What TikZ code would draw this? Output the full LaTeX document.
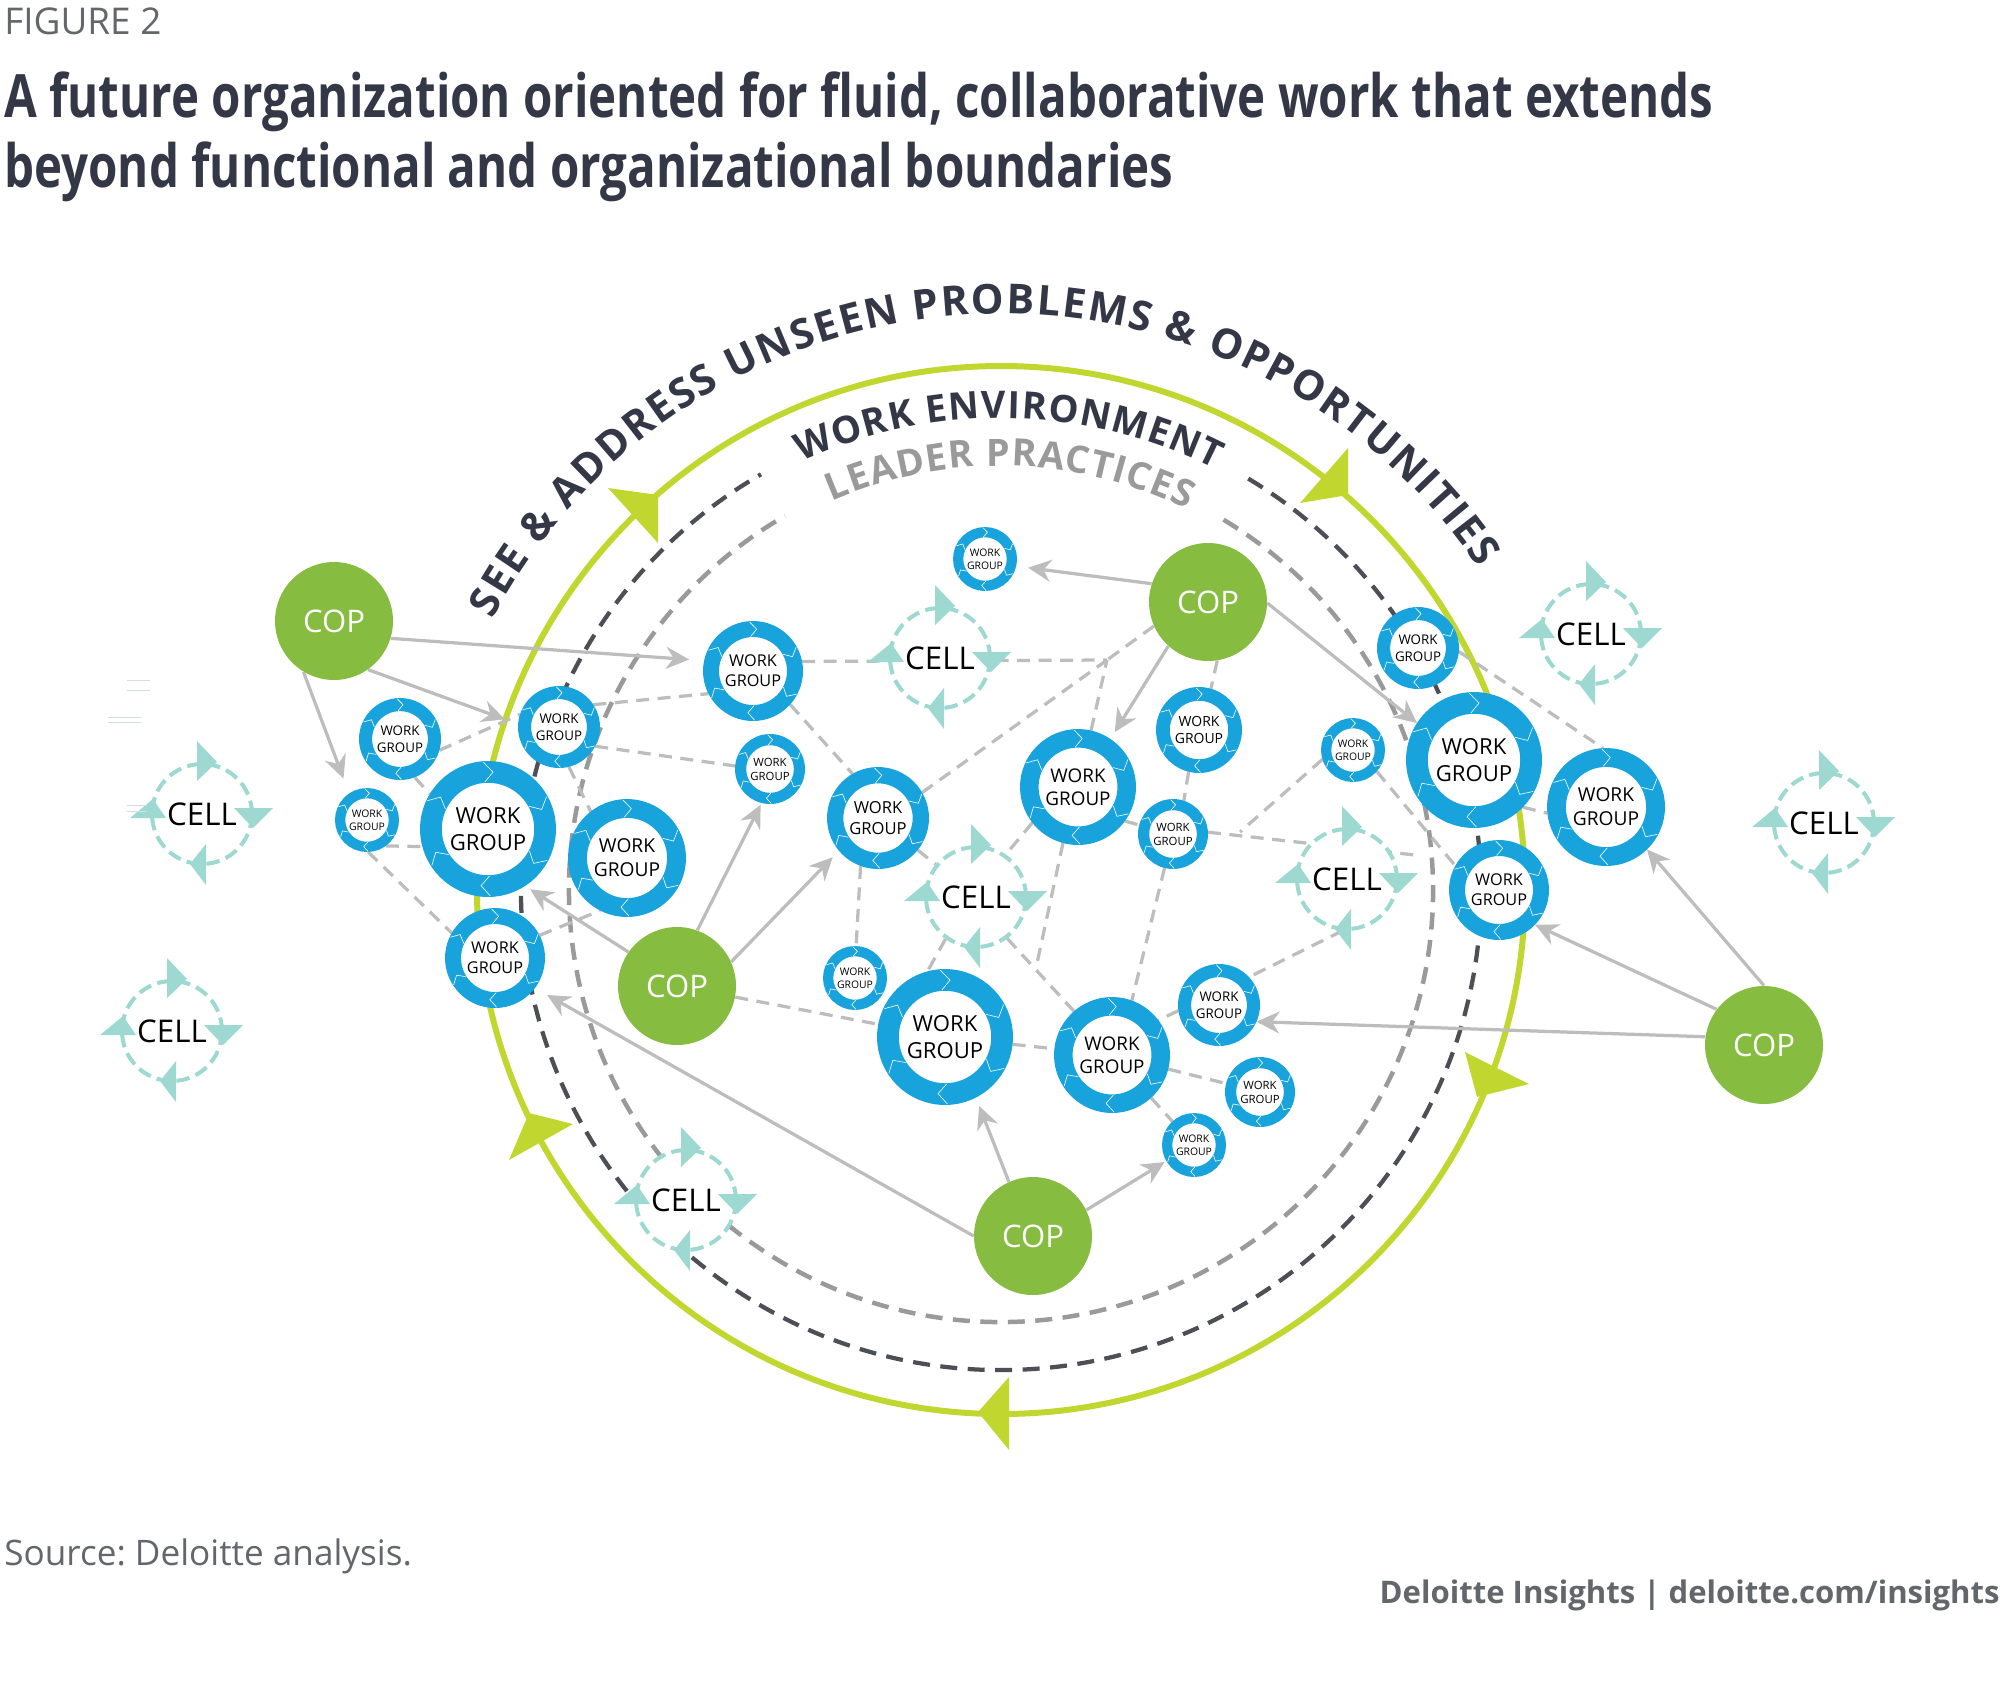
\documentclass[tikz,border=0pt]{standalone}
\usepackage{fontspec}
\usepackage{tikz}
\usetikzlibrary{arrows.meta,decorations.text}
\setmainfont{Open Sans}
\newfontfamily\titlefont[FakeStretch=0.795]{Open Sans}
\frenchspacing
\pgfdeclarelayer{bg}
\pgfsetlayers{bg,main}
\definecolor{inkdark}{HTML}{343846}
\definecolor{inkgray}{HTML}{63666A}
\definecolor{ringblue}{HTML}{18A3DC}
\definecolor{ringgreen}{HTML}{C1D72F}
\definecolor{copgreen}{HTML}{86BC40}
\definecolor{cellteal}{HTML}{9DD9D1}
\definecolor{linkgray}{HTML}{BDBDBD}
\definecolor{envdark}{HTML}{4D4F57}
\definecolor{envgray}{HTML}{9A9A9A}
\definecolor{straygray}{HTML}{D5DEE3}
\tikzset{
  copnode/.style={circle, fill=copgreen, text=white, inner sep=0pt, minimum size=2.36cm,
    font=\fontsize{17.7}{20}\selectfont},
  wgnode/.style={circle, draw=ringblue, fill=white, inner sep=0pt, align=center, text=black},
  chevron/.style={draw=white, line width=0.012cm},
  cellnode/.style={circle, draw=cellteal, fill=white, line width=0.08cm, inner sep=0pt,
    minimum size=2cm, dash pattern=on 0.27cm off 0.13cm},
  celltext/.style={inner sep=0pt, text=black, font=\fontsize{17.8}{20}\selectfont},
  linkdash/.style={draw=linkgray, line width=0.065cm, dash pattern=on 0.26cm off 0.17cm},
  linkarrow/.style={draw=linkgray, line width=0.065cm, -{Stealth[length=0.46cm,width=0.44cm]}},
  plaintext/.style={inner sep=0pt, anchor=base west},
  strayline/.style={draw=straygray, line width=0.02cm},
}
% name, x, y, outer radius
\newcommand{\wgroup}[4]{%
  \pgfmathsetmacro{\wgfont}{0.185*#4}
  \pgfmathsetmacro{\wgskip}{1.24*\wgfont}
  \node (#1) [wgnode, minimum size=0.0336cm*#4, line width=0.0064cm*#4,
    font=\fontsize{\wgfont}{\wgskip}\selectfont] at (#2,#3) {WORK\\GROUP};
  \foreach \a in {90,25,-32,-92,209,151}
    \draw[chevron, shift={(#2,#3)}] (\a+4:0.69*#4) -- (\a-5:0.84*#4) -- (\a+4:0.985*#4);
}
% name, x, y
\newcommand{\cellgroup}[3]{%
  \node (#1) [cellnode] at (#2,#3) {};
  \fill[cellteal, shift={(#2,#3)}] (-5,73) -- (15,52) -- (-5,33) -- cycle;
  \fill[cellteal, shift={(#2,#3)}] (32,6) -- (71,6) -- (51,-14) -- cycle;
  \fill[cellteal, shift={(#2,#3)}] (4,-30) -- (4,-71) -- (-12,-50) -- cycle;
  \fill[cellteal, shift={(#2,#3)}] (-72,-4) -- (-36,-4) -- (-49,15) -- cycle;
  \node (#1t) [celltext] at (#1) {CELL};
}
\begin{document}
\begin{tikzpicture}[x=0.02cm,y=0.02cm]
        \useasboundingbox (0,0) rectangle (2000,-1681);
        \node (figno) [plaintext, text=inkgray, font=\fontsize{21}{24}\selectfont] at (4,-34) {FIGURE 2};
        \node (title1) [plaintext, text=inkdark, font=\titlefont\bfseries\fontsize{34}{40}\selectfont] at (4,-117) {A future organization oriented for fluid, collaborative work that extends};
        \node (title2) [plaintext, text=inkdark, font=\titlefont\bfseries\fontsize{34}{40}\selectfont] at (4,-187) {beyond functional and organizational boundaries};
        \node (source) [plaintext, text=inkgray, font=\fontsize{20}{24}\selectfont] at (4,-1565) {Source: Deloitte analysis.};
        \node (credit) [inner sep=0pt, anchor=base east, text=inkgray, font=\bfseries\fontsize{17.7}{24}\selectfont] at (2000,-1603) {Deloitte Insights | deloitte.com/insights};

        \coordinate (hub) at (1001,-890);
        \coordinate (j1) at (1107,-660);
        \coordinate (j2) at (1036,-968);
        \coordinate (j3) at (1415,-855);
        \coordinate (j4) at (1240,-832);

        \node (copa) [copnode] at (334,-621) {COP};
        \node (copb) [copnode] at (1208,-602) {COP};
        \node (copc) [copnode] at (677,-986) {COP};
        \node (copd) [copnode] at (1033,-1236) {COP};
        \node (cope) [copnode] at (1764,-1045) {COP};

        \wgroup{w1}{753}{-671}{50}
        \wgroup{w2}{985}{-559}{32}
        \wgroup{w3}{400}{-739}{41}
        \wgroup{w4}{367}{-820}{32}
        \wgroup{w5}{488}{-829}{68}
        \wgroup{w6}{559}{-727}{41}
        \wgroup{w7}{627}{-858}{59}
        \wgroup{w8}{770}{-769}{35}
        \wgroup{w9}{495}{-958}{50}
        \wgroup{w10}{878}{-818}{51}
        \wgroup{w11}{1078}{-787}{58}
        \wgroup{w12}{1199}{-730}{43}
        \wgroup{w13}{1173}{-834}{35}
        \wgroup{w14}{1353}{-750}{32}
        \wgroup{w15}{1418}{-648}{41}
        \wgroup{w16}{1474}{-760}{68}
        \wgroup{w17}{1606}{-807}{59}
        \wgroup{w18}{1499}{-890}{50}
        \wgroup{w19}{855}{-978}{32}
        \wgroup{w20}{945}{-1037}{68}
        \wgroup{w21}{1112}{-1055}{58}
        \wgroup{w22}{1219}{-1005}{41}
        \wgroup{w23}{1260}{-1092}{35}
        \wgroup{w24}{1194}{-1145}{32}

        \cellgroup{c1}{202}{-814}
        \cellgroup{c2}{172}{-1031}
        \cellgroup{c3}{940}{-658}
        \cellgroup{c4}{976}{-897}
        \cellgroup{c5}{1347}{-879}
        \cellgroup{c6}{1591}{-634}
        \cellgroup{c7}{1824}{-823}
        \cellgroup{c8}{686}{-1200}

        \path[decorate, decoration={text along path, text align={fit to path},
          text={|\bfseries\fontsize{23.5}{30}\selectfont\color{inkdark}|SEE {\&} ADDRESS UNSEEN PROBLEMS {\&} OPPORTUNITIES}}]
          (hub) ++ (152:576) arc (152:34:576);
        \path[decorate, decoration={text along path, text align={fit to path},
          text={|\bfseries\fontsize{21.5}{25}\selectfont\color{inkdark}|WORK ENVIRONMENT}}]
          (hub) ++ (115:472) arc (115:63:472);
        \path[decorate, decoration={text along path, text align={fit to path},
          text={|\bfseries\fontsize{21.5}{24}\selectfont\color{envgray}|LEADER PRACTICES}}]
          (hub) ++ (113.5:424) arc (113.5:64:424);

        \draw[strayline] (127,-680) -- (150,-680);
        \draw[strayline] (127,-690) -- (150,-690);
        \draw[strayline] (108,-717) -- (141,-717);
        \draw[strayline] (108,-722) -- (141,-722);
        \draw[strayline] (127,-805) -- (147,-805);
        \draw[strayline] (127,-811) -- (147,-811);

        \begin{pgfonlayer}{bg}
                \draw[ringgreen, line width=0.12cm] (hub) circle (524);
                \draw[envdark, line width=0.085cm, dash pattern=on 0.34cm off 0.21cm] (hub) ++ (59:480) arc (59:-240:480);
                \draw[envgray, line width=0.09cm, dash pattern=on 0.34cm off 0.21cm] (hub) ++ (59:432) arc (59:-240:432);
                \fill[ringgreen] (608,-488) -- (658,-543) -- (658,-495) -- cycle;
                \fill[ringgreen] (1348,-448) -- (1300,-503) -- (1348,-495) -- cycle;
                \fill[ringgreen] (1465,-1052) -- (1529,-1084) -- (1477,-1097) -- cycle;
                \fill[ringgreen] (1009,-1377) -- (1009,-1450) -- (978,-1412) -- cycle;
                \fill[ringgreen] (573,-1124) -- (509,-1160) -- (529,-1113) -- cycle;
                \draw (w3.-16) edge [linkdash] (w6.162);
                \draw (w3.-69) edge [linkdash] (w5.149);
                \draw (w4.-54) edge [linkdash] (w5.195);
                \draw (w4.-88) edge [linkdash] (w9.150);
                \draw (w6.33) edge [linkdash] (w1.207);
                \draw (w6.-28) edge [linkdash] (w8.175);
                \draw (w6.-76) edge [linkdash] (w7.128);
                \draw (w9.27) edge [linkdash] (w7.243);
                \draw (w1.11) edge [linkdash] (j1);
                \draw (copb.204) edge [linkdash] (j1);
                \draw (w10.30) edge [linkdash] (j1);
                \draw (w11.77) edge [linkdash] (j1);
                \draw (copb.-81) edge [linkdash] (w12.74);
                \draw (w12.-104) edge [linkdash] (w13.72);
                \draw (w11.-36) edge [linkdash] (w13.165);
                \draw (w1.-42) edge [linkdash] (w10.120);
                \draw (w10.-110) edge [linkdash] (w19.88);
                \draw (w10) edge [linkdash] (c4);
                \draw (w11.218) edge [linkdash] (c4.55);
                \draw (w11.-105) edge [linkdash] (j2);
                \draw (c4.-53) edge [linkdash] (w21.131);
                \draw (c4.234) edge [linkdash] (w20.105);
                \draw (w13.-104) edge [linkdash] (w21.70);
                \draw (w13.3) edge [linkdash] (j3);
                \draw (w14.197) edge [linkdash] (j4);
                \draw (w14.-42) edge [linkdash] (w18.151);
                \draw (c5.-95) edge [linkdash] (w22.43);
                \draw (w22.188) edge [linkdash] (w21.37);
                \draw (w20) edge [linkdash] (w21);
                \draw (w21) edge [linkdash] (w23);
                \draw (w21) edge [linkdash] (w24);
                \draw (copc) edge [linkdash] (w20);
                \draw (w15.-5) edge [linkdash] (w17.93);
                \draw (w16.-44) edge [linkdash] (w17.186);
                \draw (copa.-17) edge [linkarrow, shorten >=0.3cm] (w1.168);
                \draw (copa.-55) edge [linkarrow, shorten >=0.28cm] (w6.176);
                \draw (copa.-121) edge [linkarrow, shorten >=0.32cm] (w4.124);
                \draw (copb.162) edge [linkarrow, shorten >=0.24cm] (w2.-13);
                \draw (copb.-132) edge [linkarrow, shorten >=0.16cm] (w11.56);
                \draw (copb.-1) edge [linkarrow] (w16.147);
                \draw (copc.70) edge [linkarrow, shorten >=0.04cm] (w8.-104);
                \draw (copc.24) edge [linkarrow, shorten >=0.18cm] (w10.220);
                \draw (copc.145) edge [linkarrow, shorten >=0.12cm] (w5.-57);
                \draw (copd.180) edge [linkarrow, shorten >=0.28cm] (w9.-37);
                \draw (copd.114) edge [linkarrow, shorten >=0.18cm] (w20.-63);
                \draw (copd.26) edge [linkarrow, shorten >=0.04cm] (w24.210);
                \draw (cope.90) edge [linkarrow] (w17.-46);
                \draw (cope.143) edge [linkarrow] (w18.-44);
                \draw (cope.172) edge [linkarrow] (w22.-24);
        \end{pgfonlayer}
\end{tikzpicture}
\end{document}
